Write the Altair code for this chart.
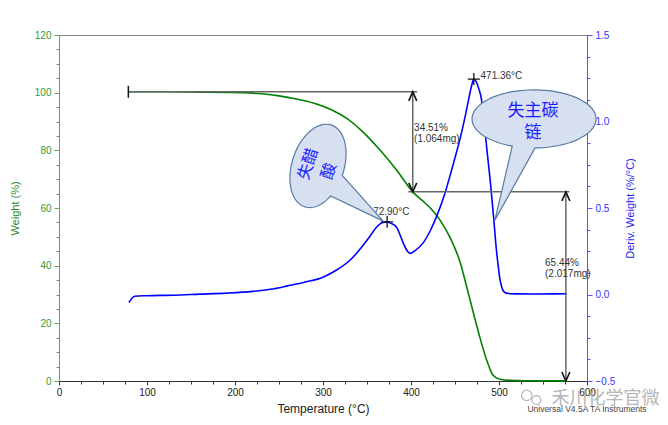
import math
import altair as alt
import pandas as pd

# ---------------- data ----------------
green_T = [78.8, 100, 130, 160, 190, 210, 230, 250, 270, 290, 310, 327, 345, 365, 384, 402,
           412, 422, 433, 444, 456, 463, 471, 478, 486, 493, 501, 512, 530, 576]
green_W = [100.3, 100.3, 100.3, 100.2, 100.1, 100.0, 99.6, 98.9, 97.8, 96.3, 94.0, 91.1, 86.5,
           80.0, 73.0, 65.6, 62.8, 60.0, 55.8, 50.0, 41.0, 33.0, 23.5, 15.4, 7.3, 2.1, 0.6, 0.2,
           0.08, 0.05]

blue_T = [79.5, 86, 100, 130, 160, 190, 220, 240, 260, 280, 300, 315, 330, 345, 353, 361, 367,
          372.9, 378, 384, 391, 396, 399, 405, 414, 422, 429, 437, 444, 450, 456, 462, 466, 469,
          471.4, 474, 477, 480, 483, 486, 490, 494, 497, 499, 501, 503, 505, 508, 515, 540, 577]
blue_D = [-0.046, -0.01, -0.007, -0.004, 0.002, 0.008, 0.018, 0.03, 0.05, 0.072, 0.10, 0.14,
          0.195, 0.28, 0.334, 0.39, 0.415, 0.42, 0.41, 0.385, 0.30, 0.25, 0.238, 0.255, 0.30,
          0.37, 0.45, 0.56, 0.68, 0.79, 0.905, 1.04, 1.14, 1.21, 1.245, 1.23, 1.19, 1.13, 1.0,
          0.85, 0.66, 0.44, 0.26, 0.17, 0.09, 0.045, 0.02, 0.008, 0.004, 0.003, 0.004]

x_ticks = [0, 100, 200, 300, 400, 500, 600]
w_ticks = [0, 20, 40, 60, 80, 100, 120]
d_ticks = [-0.5, 0.0, 0.5, 1.0, 1.5]
x_minor = list(range(0, 601, 25))
w_minor = list(range(0, 121, 5))
d_minor = [-0.5 + 0.125 * i for i in range(17)]

# step annotation (weight scale)
seg_x1 = [78.8, 402, 397, 576]
seg_x2 = [407, 402, 580, 576]
seg_y1 = [100.3, 100.3, 65.6, 65.6]
seg_y2 = [100.3, 65.6, 65.6, 0.0]
up_T, up_W = [402, 576], [100.3, 65.6]
dn_T, dn_W = [402, 576], [65.6, 0.0]

step_text_T = [403.5, 403.5, 552.3, 552.3]
step_text_W = [87.8, 83.9, 40.8, 37.0]
step_text = ["34.51%", "(1.064mg)", "65.44%", "(2.017mg)"]

peak_T = [372.9, 471.4]
peak_D = [0.42, 1.245]
peak_label_T = [357, 479]
peak_label_D = [0.479, 1.263]
peak_label = ["72.90°C", "471.36°C"]

# ---------------- scales ----------------
XS = alt.Scale(domain=[0, 600], nice=False, zero=False)
YW = alt.Scale(domain=[0, 120], nice=False, zero=False)
YD = alt.Scale(domain=[-0.5, 1.5], nice=False, zero=False)
FONT = "Liberation Sans"


def X(f, axis=None):
    return alt.X(f, type="quantitative", scale=XS, axis=axis)


def YWe(f, axis=None):
    return alt.Y(f, type="quantitative", scale=YW, axis=axis)


def YDe(f, axis=None):
    return alt.Y(f, type="quantitative", scale=YD, axis=axis)


green_df = pd.DataFrame({"T": green_T, "W": green_W})
blue_df = pd.DataFrame({"T": blue_T, "D": blue_D})

x_axis = alt.Axis(values=x_ticks, orient="bottom", format="d", tickSize=4, labelFontSize=10,
                  labelColor="#222", domainColor="#333", tickColor="#333", labelFlush=False,
                  labelPadding=2, title="Temperature (°C)", titleFontSize=12,
                  titleFontWeight="normal", titleColor="#222", titleY=27,
                  titleBaseline="middle")
w_axis = alt.Axis(values=w_ticks, orient="left", tickSize=5, labelFontSize=10, labelColor="#339933",
                  domainColor="#55aa55", tickColor="#55aa55", labelPadding=3,
                  title="Weight (%)", titleColor="#2a8a2a", titleFontSize=11,
                  titleFontWeight="normal", titleX=-44, titleY=173, titleAngle=270,
                  titleBaseline="middle")
d_axis = alt.Axis(values=d_ticks, orient="right", format=".1f", tickSize=5, labelFontSize=10,
                  labelColor="#3333ff", domainColor="#5555ff", tickColor="#5555ff", labelPadding=3,
                  title="Deriv. Weight (%/°C)", titleColor="#2222ee", titleFontSize=11,
                  titleFontWeight="normal", titleX=43, titleY=173, titleAngle=270,
                  titleBaseline="middle")

green = alt.Chart(green_df).mark_line(color="#008000", strokeWidth=1.6, interpolate="monotone").encode(
    x=X("T", x_axis), y=YWe("W", w_axis))
blue = alt.Chart(blue_df).mark_line(color="#0000ff", strokeWidth=1.6, interpolate="monotone").encode(
    x=X("T"), y=YDe("D", d_axis))

one = pd.DataFrame({"T": [300], "W": [60], "D": [0.5]})
minor_w = alt.Chart(one).mark_point(opacity=0).encode(
    x=X("T"), y=YWe("W", alt.Axis(values=w_minor, orient="left", labels=False, tickSize=3,
                                  domain=False, title=None, tickColor="#55aa55")))
minor_d = alt.Chart(one).mark_point(opacity=0).encode(
    x=X("T"), y=YDe("D", alt.Axis(values=d_minor, orient="right", labels=False, tickSize=3,
                                  domain=False, title=None, tickColor="#5555ff")))
minor_x = alt.Chart(one).mark_point(opacity=0).encode(
    x=X("T", alt.Axis(values=x_minor, orient="bottom", labels=False, tickSize=3, domain=False,
                      title=None, tickColor="#333")),
    y=YWe("W"))

seg_df = pd.DataFrame({"x1": seg_x1, "x2": seg_x2, "y1": seg_y1, "y2": seg_y2})
segs = alt.Chart(seg_df).mark_rule(color="#666", strokeWidth=1.5).encode(
    x=X("x1"), x2="x2", y=YWe("y1"), y2="y2")

UP = "M -4 9 L 0 0 L 4 9"
DN = "M -4 -9 L 0 0 L 4 -9"
up = alt.Chart(pd.DataFrame({"T": up_T, "W": up_W})).mark_point(
    shape=UP, size=4, filled=False, color="#111", strokeWidth=1.6, opacity=1).encode(
    x=X("T"), y=YWe("W"))
dn = alt.Chart(pd.DataFrame({"T": dn_T, "W": dn_W})).mark_point(
    shape=DN, size=4, filled=False, color="#111", strokeWidth=1.6, opacity=1).encode(
    x=X("T"), y=YWe("W"))
endtick = alt.Chart(pd.DataFrame({"T": [78.8], "W": [100.3]})).mark_point(
    shape="M 0 -6 L 0 6", size=4, filled=False, color="#111", strokeWidth=1.5, opacity=1).encode(
    x=X("T"), y=YWe("W"))

peaks = alt.Chart(pd.DataFrame({"T": peak_T, "D": peak_D})).mark_point(
    shape="M -6 0 L 6 0 M 0 -6 L 0 6", size=4, filled=False, color="#111", strokeWidth=1.3,
    opacity=1).encode(x=X("T"), y=YDe("D"))

step_txt = alt.Chart(pd.DataFrame({"T": step_text_T, "W": step_text_W, "t": step_text})).mark_text(
    align="left", baseline="middle", font=FONT, fontSize=10, color="#333").encode(
    x=X("T"), y=YWe("W"), text="t:N")
peak_txt = alt.Chart(pd.DataFrame({"T": peak_label_T, "D": peak_label_D, "t": peak_label})).mark_text(
    align="left", baseline="middle", font=FONT, fontSize=10, color="#333").encode(
    x=X("T"), y=YDe("D"), text="t:N")


# ---------------- callout shapes (pixel geometry of the bubble outline) ----------------
def callout_path(a, b, rot_deg, th_a, th_b, tip, n=90):
    r = math.radians(rot_deg)
    ux, uy = math.cos(r), math.sin(r)
    vx, vy = -math.sin(r), math.cos(r)

    def pt(t):
        t = math.radians(t)
        ca, sb = a * math.cos(t), b * math.sin(t)
        return (ca * ux + sb * vx, ca * uy + sb * vy)

    pts = [tip]
    start, end = th_b, th_a + 360
    for i in range(n + 1):
        pts.append(pt(start + (end - start) * i / n))
    s = "M %.2f %.2f" % pts[0]
    for p in pts[1:]:
        s += " L %.2f %.2f" % p
    return s + " Z"


bubble1 = callout_path(43, 26, -72, 92, 125, (65, 55))
bubble2 = callout_path(62, 29, 0, 89, 110.6, (-39, 101))

b1 = alt.Chart(pd.DataFrame({"T": [294.3], "W": [74.6]})).mark_point(
    shape=bubble1, size=4, filled=True, fill="#d6e0f0", stroke="#587ba3", strokeWidth=1.2,
    opacity=1, fillOpacity=1).encode(x=X("T"), y=YWe("W"))
b2 = alt.Chart(pd.DataFrame({"T": [539.8], "W": [90.9]})).mark_point(
    shape=bubble2, size=4, filled=True, fill="#d6e0f0", stroke="#587ba3", strokeWidth=1.2,
    opacity=1, fillOpacity=1).encode(x=X("T"), y=YWe("W"))

c1_T, c1_W, c1_t = [283.2, 306.8], [75.3, 72.8], ["失醋", "酸"]
c2_T, c2_W, c2_t = [538.6, 538.6], [93.6, 86.0], ["失主碳", "链"]
c1 = alt.Chart(pd.DataFrame({"T": c1_T, "W": c1_W, "t": c1_t})).mark_text(
    align="center", baseline="middle", angle=288, font="Noto Sans CJK SC", fontSize=16,
    color="#1a1aff").encode(x=X("T"), y=YWe("W"), text="t:N")
c2 = alt.Chart(pd.DataFrame({"T": c2_T, "W": c2_W, "t": c2_t})).mark_text(
    align="center", baseline="middle", font="Noto Sans CJK SC", fontSize=17,
    color="#1a1aff").encode(x=X("T"), y=YWe("W"), text="t:N")

# ---------------- watermark / instrument text ----------------
wm = alt.Chart(pd.DataFrame({"T": [621], "W": [-6.3], "t": ["禾川化学官微"]})).mark_text(
    align="center", baseline="middle", font="Noto Sans CJK SC", fontSize=18, color="#aaaaaa",
    opacity=0.85).encode(x=X("T"), y=YWe("W"), text="t:N")
icon = alt.Chart(pd.DataFrame({"T": [531.5, 542.5], "W": [-5.0, -6.6], "s": [110, 80]})).mark_point(
    filled=False, color="#aaaaaa", strokeWidth=1.2, opacity=0.85).encode(
    x=X("T"), y=YWe("W"), size=alt.Size("s:Q", scale=None, legend=None))
inst = alt.Chart(pd.DataFrame({"T": [600], "W": [-9.7], "t": ["Universal V4.5A TA Instruments"]})).mark_text(
    align="center", baseline="middle", font=FONT, fontSize=8.5, color="#444").encode(
    x=X("T"), y=YWe("W"), text="t:N")

chart = alt.layer(
    minor_x, minor_w, minor_d, green, blue, segs, up, dn, endtick, peaks,
    step_txt, peak_txt, b1, b2, c1, c2, icon, wm, inst
).resolve_scale(x="independent", y="independent").properties(
    width=528, height=346,
    padding={"left": 59, "top": 35, "right": 81, "bottom": 44},
    autosize="none",
).configure_axis(
    grid=False, labelFont=FONT, titleFont=FONT
).configure_view(stroke="#888")

chart.save("out.html", embed_options={"renderer": "svg", "actions": False})
